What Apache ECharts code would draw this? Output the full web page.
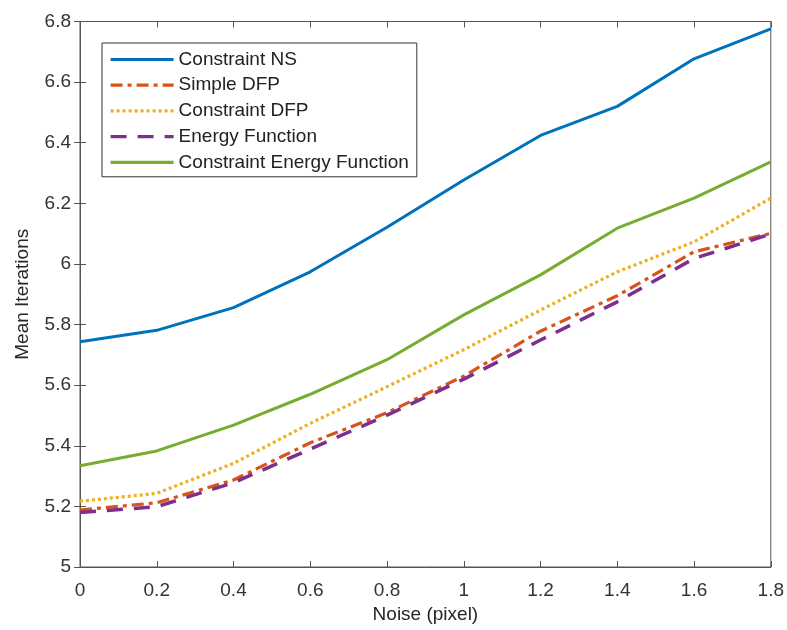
<!DOCTYPE html>
<html>
<head>
<meta charset="utf-8">
<script src="https://cdn.jsdelivr.net/npm/echarts@6/dist/echarts.min.js"></script>
<style>html,body{margin:0;padding:0;background:#fff;}#chart{width:787px;height:630px;}</style>
</head>
<body>
<div id="chart"></div>
<script>
// Data
var noise = [0, 0.2, 0.4, 0.6, 0.8, 1.0, 1.2, 1.4, 1.6, 1.8];
var constraintNS = [5.743, 5.781, 5.856, 5.974, 6.121, 6.277, 6.424, 6.520, 6.677, 6.776];
var simpleDFP = [5.188, 5.212, 5.287, 5.410, 5.509, 5.630, 5.778, 5.895, 6.040, 6.101];
var constraintDFP = [5.217, 5.243, 5.342, 5.474, 5.595, 5.717, 5.848, 5.974, 6.073, 6.217];
var energyFunction = [5.180, 5.199, 5.278, 5.389, 5.501, 5.620, 5.749, 5.875, 6.018, 6.099];
var constraintEnergy = [5.334, 5.383, 5.468, 5.570, 5.684, 5.832, 5.964, 6.118, 6.217, 6.337];
var seriesNames = ['Constraint NS', 'Simple DFP', 'Constraint DFP', 'Energy Function', 'Constraint Energy Function'];
var xTitle = 'Noise (pixel)';
var yTitle = 'Mean Iterations';

function pairs(ys) { return noise.map(function (x, i) { return [x, ys[i]]; }); }

var FONT = '"Liberation Sans", Arial, Helvetica, sans-serif';
var axisCol = '#555555';
var chart = echarts.init(document.getElementById('chart'), null, { renderer: 'canvas' });

function mkSeries(name, ys, color, type, width) {
  return {
    name: name, type: 'line', data: pairs(ys), symbol: 'none', xAxisIndex: 0, yAxisIndex: 0,
    lineStyle: { color: color, width: width, type: type, cap: 'butt' },
    itemStyle: { color: color },
    animation: false
  };
}

var option = {
  backgroundColor: '#ffffff',
  animation: false,
  grid: { left: 80, right: 16, top: 21.5, bottom: 63, show: true, borderColor: axisCol, borderWidth: 1, backgroundColor: 'transparent' },
  legend: {
    orient: 'vertical', left: 102, top: 43,
    data: seriesNames,
    itemWidth: 63, itemHeight: 18, itemGap: 6.7,
    padding: [7, 8, 5, 7],
    backgroundColor: '#ffffff', borderColor: '#333333', borderWidth: 1,
    itemStyle: { opacity: 0 },
    lineStyle: { width: 3.2 },
    textStyle: { fontFamily: FONT, fontSize: 19, color: '#222222', lineHeight: 18 },
    selectedMode: false
  },
  xAxis: [{
    type: 'value', min: 0, max: 1.8, interval: 0.2, position: 'bottom',
    name: xTitle, nameLocation: 'middle', nameGap: 36,
    nameTextStyle: { fontFamily: FONT, fontSize: 19, color: '#262626' },
    axisLine: { show: true, lineStyle: { color: axisCol, width: 1 } },
    axisTick: { show: true, inside: true, length: 6, lineStyle: { color: axisCol } },
    axisLabel: { fontFamily: FONT, fontSize: 19, color: '#333333', margin: 14 },
    splitLine: { show: false }
  }, {
    type: 'value', min: 0, max: 1.8, interval: 0.2, position: 'top',
    axisLine: { show: true, lineStyle: { color: axisCol, width: 1 } },
    axisTick: { show: true, inside: true, length: 6, lineStyle: { color: axisCol } },
    axisLabel: { show: false }, splitLine: { show: false }
  }],
  yAxis: [{
    type: 'value', min: 5, max: 6.8, interval: 0.2, position: 'left',
    name: yTitle, nameLocation: 'middle', nameGap: 48, nameRotate: 90,
    nameTextStyle: { fontFamily: FONT, fontSize: 19, color: '#262626' },
    axisLine: { show: true, lineStyle: { color: axisCol, width: 1 } },
    axisTick: { show: true, inside: true, length: 6, lineStyle: { color: axisCol } },
    axisLabel: { fontFamily: FONT, fontSize: 19, color: '#333333', margin: 9 },
    splitLine: { show: false }
  }, {
    type: 'value', min: 5, max: 6.8, interval: 0.2, position: 'right',
    axisLine: { show: true, lineStyle: { color: axisCol, width: 1 } },
    axisTick: { show: true, inside: true, length: 6, lineStyle: { color: axisCol } },
    axisLabel: { show: false }, splitLine: { show: false }
  }],
  series: [
    mkSeries(seriesNames[0], constraintNS, '#0072BD', 'solid', 3),
    mkSeries(seriesNames[1], simpleDFP, '#D95319', [12, 5, 4, 5], 3.2),
    mkSeries(seriesNames[2], constraintDFP, '#EDB120', [3, 3], 3.2),
    mkSeries(seriesNames[3], energyFunction, '#7E2F8E', [16, 11], 3.5),
    mkSeries(seriesNames[4], constraintEnergy, '#77AC30', 'solid', 3)
  ]
};
chart.setOption(option);
</script>
</body>
</html>
